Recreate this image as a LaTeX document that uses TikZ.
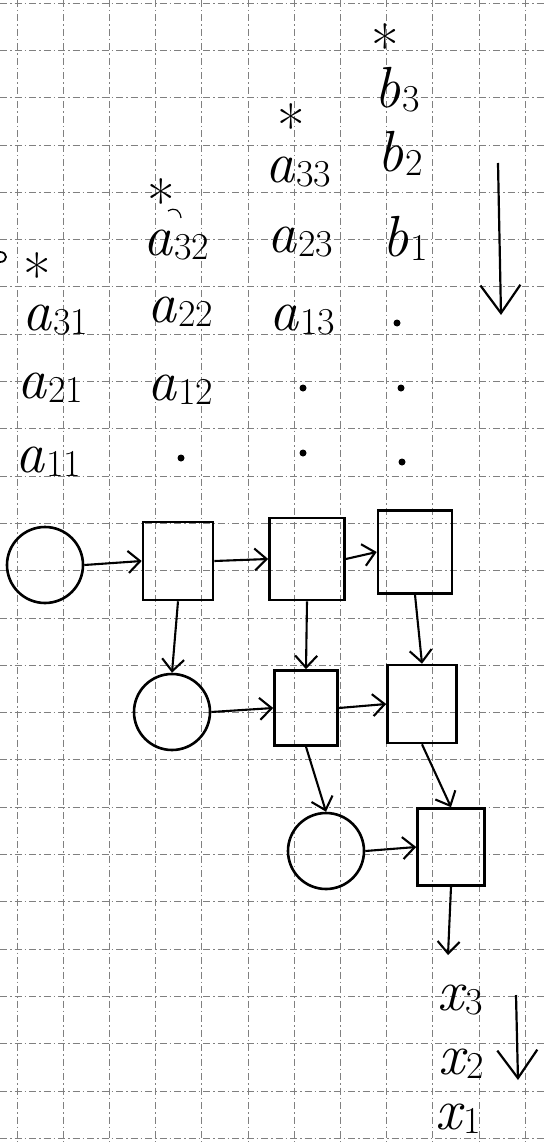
\documentclass[tikz,border=0pt]{standalone}
\usetikzlibrary{arrows.meta}
\newcommand{\lab}[2]{{\fontsize{58}{58}\selectfont\itshape #1}\kern2pt\raisebox{-0.42em}{\fontsize{38}{38}\selectfont #2}}
\newcommand{\astmark}{\raisebox{-0.42em}[0.33em][0pt]{*}}
\begin{document}
\begin{tikzpicture}[x=1pt,y=-1pt,
  gridline/.style={black!50, line width=0.7pt, dash pattern=on 7pt off 3pt on 1.5pt off 3pt},
  sq/.style={draw, line width=2.6pt, inner sep=0pt},
  circ/.style={draw, circle, line width=2.6pt, minimum size=76pt, inner sep=0pt},
  arr/.style={line width=2.1pt, -{Straight Barb[length=12pt,width=22pt,line width=2.1pt]}},
  bigarr/.style={line width=2.2pt, -{Straight Barb[length=28pt,width=40pt,line width=2.2pt]}},
  lbl/.style={inner sep=0pt},
  star/.style={inner sep=0pt, font=\fontsize{60}{60}\selectfont},
  dotn/.style={circle, fill, inner sep=0pt, minimum size=7pt}]
\useasboundingbox (0,0) rectangle (544,1142);
\fill[white] (0,0) rectangle (544,1142);
\foreach \i in {0,...,11} \draw[gridline] (17+46.2*\i,0) -- (17+46.2*\i,1142);
\foreach \j in {0,...,24} \draw[gridline] (0,3+47.3*\j) -- (544,3+47.3*\j);

% stars
\node[star] (st1) at (385,33) {\astmark};
\node[star] (st2) at (291,113) {\astmark};
\node[star] (st3) at (161,188) {\astmark};
\node[star] (st4) at (37,262) {\astmark};
\draw[line width=1.8pt] (0,252) .. controls (8,252) and (8,262) .. (0,262);
\draw[line width=1.2pt] (168,211) .. controls (175,207) and (180,210) .. (181,218);

% b column
\node[lbl] (b3) at (397,90) {\lab{b}{3}};
\node[lbl] (b2) at (400,153) {\lab{b}{2}};
\node[lbl] (b1) at (405,238) {\lab{b}{1}};

% a entries
\node[lbl] (a33) at (298,172) {\lab{a}{33}};
\node[lbl] (a23) at (300,242) {\lab{a}{23}};
\node[lbl] (a13) at (302,320) {\lab{a}{13}};
\node[lbl] (a32) at (176,245) {\lab{a}{32}};
\node[lbl] (a22) at (180,312) {\lab{a}{22}};
\node[lbl] (a12) at (180,390) {\lab{a}{12}};
\node[lbl] (a31) at (55,320) {\lab{a}{31}};
\node[lbl] (a21) at (50,388) {\lab{a}{21}};
\node[lbl] (a11) at (48,462) {\lab{a}{11}};

% dots
\node[dotn] (d1) at (397,323) {};
\node[dotn] (d2) at (303,388) {};
\node[dotn] (d3) at (401,388) {};
\node[dotn] (d4) at (181,458) {};
\node[dotn] (d5) at (303,453) {};
\node[dotn] (d6) at (402,462) {};

% processing cells
\node[circ] (c1) at (45,565) {};
\node[sq, minimum width=70pt, minimum height=78pt] (s11) at (178,561) {};
\node[sq, minimum width=75pt, minimum height=82pt] (s12) at (307,559) {};
\node[sq, minimum width=74pt, minimum height=83pt] (s13) at (415,552) {};
\node[circ] (c2) at (172,712) {};
\node[sq, minimum width=63pt, minimum height=75pt] (s22) at (306,708) {};
\node[sq, minimum width=69pt, minimum height=78pt] (s23) at (422,704) {};
\node[circ] (c3) at (326,851) {};
\node[sq, minimum width=67pt, minimum height=77pt] (s33) at (451,847) {};

\draw[arr] (c1.east) -- (s11.west);
\draw[arr] (s11.east) -- (s12.west);
\draw[arr] (s12.east) -- (s13.west);
\draw[arr] (s11.south) -- (c2.north);
\draw[arr] (s12.south) -- (s22.north);
\draw[arr] (s13.south) -- (s23.north);
\draw[arr] (c2.east) -- (s22.west);
\draw[arr] (s22.east) -- (s23.west);
\draw[arr] (s22.south) -- (c3.north);
\draw[arr] (s23.south) -- (s33.north);
\draw[arr] (c3.east) -- (s33.west);
\coordinate (outend) at (448,955);
\draw[arr] (s33.south) -- (outend);

% outputs
\node[lbl] (x3) at (460,1000) {\lab{x}{3}};
\node[lbl] (x2) at (461,1064) {\lab{x}{2}};
\node[lbl] (x1) at (458,1119) {\lab{x}{1}};

% direction arrows
\coordinate (ba1) at (498,163);
\coordinate (ba2) at (501,315);
\draw[bigarr] (ba1) -- (ba2);
\coordinate (bb1) at (516,995);
\coordinate (bb2) at (518,1080);
\draw[bigarr] (bb1) -- (bb2);
\end{tikzpicture}
\end{document}
